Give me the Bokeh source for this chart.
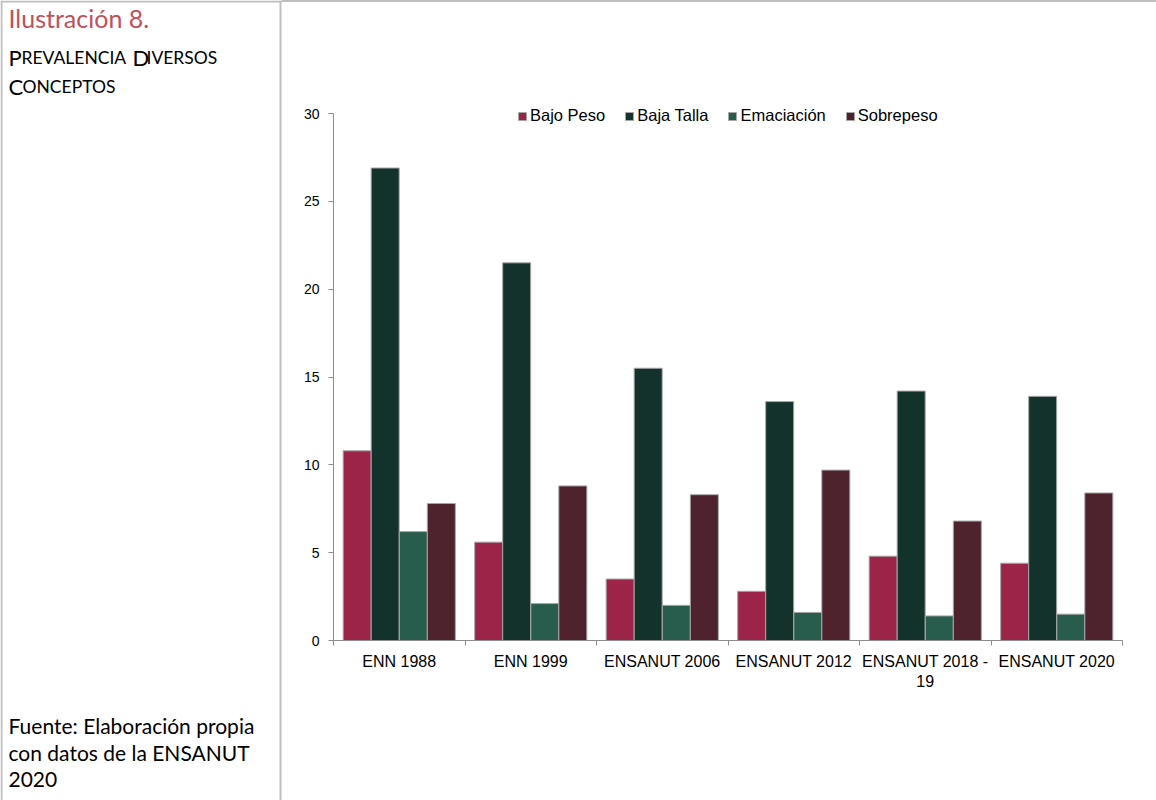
import numpy as np
from bokeh.plotting import figure
from bokeh.models import Range1d, FixedTicker, Label, Span, Legend, LegendItem, ColumnDataSource
from bokeh.layouts import row
from bokeh.embed import file_html
from bokeh.resources import INLINE

# ---------------- data ----------------
categories = ["ENN 1988", "ENN 1999", "ENSANUT 2006", "ENSANUT 2012",
              "ENSANUT 2018 - 19", "ENSANUT 2020"]
category_labels = ["ENN 1988", "ENN 1999", "ENSANUT 2006", "ENSANUT 2012",
                   "ENSANUT 2018 -\n19", "ENSANUT 2020"]
series_names = ["Bajo Peso", "Baja Talla", "Emaciación", "Sobrepeso"]
bajo_peso = [10.8, 5.6, 3.5, 2.8, 4.8, 4.4]
baja_talla = [26.9, 21.5, 15.5, 13.6, 14.2, 13.9]
emaciacion = [6.2, 2.1, 2.0, 1.6, 1.4, 1.5]
sobrepeso = [7.8, 8.8, 8.3, 9.7, 6.8, 8.4]
y_ticks = [0, 5, 10, 15, 20, 25, 30]

title_text = "Ilustración 8."
subtitle_lines = ["PREVALENCIA DIVERSOS", "CONCEPTOS"]
source_lines = ["Fuente: Elaboración propia", "con datos de la ENSANUT", "2020"]

# ---------------- style ----------------
colors = ["#9D2449", "#13322B", "#285C4D", "#4E232E"]
frame_gray = "#bfbfbf"
axis_gray = "#8c8c8c"
side_font = "Lato"
chart_font = "Liberation Sans"


def no_align(fig):
    if "frame_align" in fig.properties():
        fig.frame_align = False


# ---------------- left panel ----------------
left = figure(width=282, height=800, x_range=Range1d(0, 282), y_range=Range1d(800, 0),
              x_axis_location=None, y_axis_location=None, min_border=0,
              outline_line_color=None, toolbar_location=None, output_backend="svg")
left.grid.visible = False
no_align(left)
left.add_layout(Span(location=1, dimension="height", line_color=frame_gray, line_width=2))
left.add_layout(Span(location=280, dimension="height", line_color=frame_gray, line_width=2))
left.add_layout(Span(location=1, dimension="width", line_color=frame_gray, line_width=2))

left.add_layout(Label(x=8, y=17, text=title_text, text_font=side_font, text_font_size="25px",
                      text_color="#C0505A", text_baseline="alphabetic"))


def small_caps(line, y, positions, big="22px", small="17.5px"):
    for w, (bx, sx) in zip(line.split(" "), positions):
        left.add_layout(Label(x=bx, y=y, text=w[0], text_font=side_font, text_font_size=big,
                              text_color="black", text_baseline="alphabetic"))
        left.add_layout(Label(x=sx, y=y, text=w[1:], text_font=side_font, text_font_size=small,
                              text_color="black", text_baseline="alphabetic"))


small_caps(subtitle_lines[0], 57, [(8, 21), (132, 146)])
small_caps(subtitle_lines[1], 86, [(8, 22)])

for i, s in enumerate(source_lines):
    left.add_layout(Label(x=8, y=725 + 27 * i, text=s, text_font=side_font, text_font_size="21px",
                          text_color="black", text_baseline="alphabetic"))

# ---------------- chart ----------------
chart = figure(width=874, height=798, x_range=Range1d(0, len(categories)), y_range=Range1d(0, 30.8),
               min_border_left=51, min_border_right=34, min_border_top=97, min_border_bottom=160,
               outline_line_color=None, toolbar_location=None, output_backend="svg")
chart.xgrid.visible = False
chart.ygrid.visible = False
no_align(chart)
chart.styles = {"border-top": "2px solid " + frame_gray}

centers = np.arange(len(categories)) + 0.5
offsets = [-0.32, -0.107, 0.107, 0.32]
series = [bajo_peso, baja_talla, emaciacion, sobrepeso]
items = []
for name, vals, col, off in zip(series_names, series, colors, offsets):
    src = ColumnDataSource(dict(x=centers + off, top=vals))
    r = chart.vbar(x="x", top="top", bottom=0, width=0.213, source=src,
                   fill_color=col, line_color="#a6a6a6", line_width=1)
    items.append(LegendItem(label=name, renderers=[r]))

legend = Legend(items=items, orientation="horizontal", location=(184, 515),
                margin=0, padding=0, spacing=19, label_standoff=3,
                glyph_width=10, glyph_height=10, label_height=16,
                label_text_font=chart_font, label_text_font_size="16.5px",
                label_text_color="black", background_fill_alpha=0, border_line_color=None)
chart.add_layout(legend)

xa = chart.xaxis[0]
xa.ticker = FixedTicker(ticks=list(centers), minor_ticks=list(range(len(categories) + 1)))
xa.major_label_overrides = {float(c): lab for c, lab in zip(centers, category_labels)}
xa.major_tick_line_color = None
xa.major_tick_in = 0
xa.major_tick_out = 0
xa.minor_tick_in = 0
xa.minor_tick_out = 5
xa.minor_tick_line_color = axis_gray
xa.axis_line_color = axis_gray
xa.major_label_standoff = 7
xa.major_label_text_font = chart_font
xa.major_label_text_font_size = "16px"
xa.major_label_text_color = "black"

ya = chart.yaxis[0]
ya.ticker = FixedTicker(ticks=y_ticks, minor_ticks=[])
ya.bounds = (0, 30)
ya.major_tick_in = 0
ya.major_tick_out = 5
ya.major_tick_line_color = axis_gray
ya.minor_tick_line_color = None
ya.axis_line_color = axis_gray
ya.major_label_standoff = 9
ya.major_label_text_font = chart_font
ya.major_label_text_font_size = "14px"
ya.major_label_text_color = "black"

layout = row(left, chart)
open("out.html", "w").write(file_html(layout, INLINE))
